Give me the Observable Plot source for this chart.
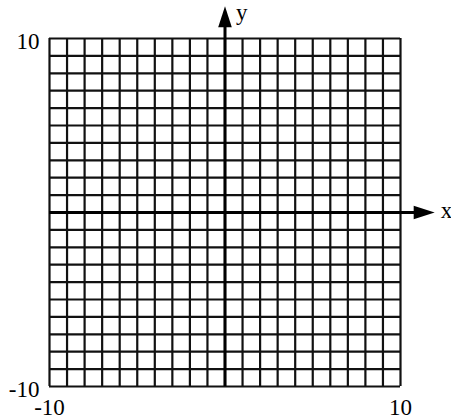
<!DOCTYPE html>
<html>
<head>
<meta charset="utf-8">
<script src="https://cdn.jsdelivr.net/npm/d3@7"></script>
<script src="https://cdn.jsdelivr.net/npm/@observablehq/plot@0.6"></script>
<style>
  html, body { margin: 0; padding: 0; background: #fff; }
  svg { display: block; }
</style>
</head>
<body>
<div id="chart"></div>
<script>
const gridValues = [-10,-9,-8,-7,-6,-5,-4,-3,-2,-1,0,1,2,3,4,5,6,7,8,9,10];
const xTicks = [-10, 10];
const yTicks = [-10, 10];
const axisNames = ["x", "y"];

const arrowHead = {
  draw(context) {
    context.moveTo(0, -21);
    context.lineTo(6.8, 0);
    context.lineTo(-6.8, 0);
    context.closePath();
  }
};

const chart = Plot.plot({
  width: 451,
  height: 419,
  marginLeft: 49,
  marginRight: 51,
  marginTop: 38,
  marginBottom: 33,
  x: {domain: [-10, 10]},
  y: {domain: [-10, 10]},
  style: {fontFamily: "'Liberation Serif', serif", color: "black", background: "white"},
  marks: [
    Plot.ruleX(gridValues, {y1: -10, y2: 10, stroke: "#111", strokeWidth: 2.2}),
    Plot.ruleY(gridValues, {x1: -10, x2: 10, stroke: "#111", strokeWidth: 2.2}),
    Plot.ruleX([0], {y1: -10, y2: 10.7, stroke: "black", strokeWidth: 3}),
    Plot.ruleY([0], {x1: -10, x2: 10.8, stroke: "black", strokeWidth: 3}),
    Plot.dot([0], {x: 0, y: 10.65, symbol: arrowHead, fill: "black", stroke: "none", r: 5}),
    Plot.dot([0], {x: 10.75, y: 0, symbol: arrowHead, fill: "black", stroke: "none", r: 5, rotate: 90}),
    Plot.text([axisNames[1]], {x: 0.95, y: 11.5, text: d => d, textAnchor: "middle", className: "axname"}),
    Plot.text([axisNames[0]], {x: 12.3, y: 0.1, text: d => d, textAnchor: "start", className: "axname"}),
    Plot.axisY(yTicks, {tickSize: 0, tickPadding: 10, dy: 3, label: null, tickFormat: d => String(d)}),
    Plot.axisX(xTicks, {tickSize: 0, tickPadding: 12, label: null, tickFormat: d => String(d)})
  ]
});
chart.querySelectorAll("text").forEach(t => {
  t.style.fontFamily = "'Liberation Serif', 'Times New Roman', serif";
  t.style.fontSize = "23px";
});
chart.querySelectorAll("g[font-size]").forEach(g => g.removeAttribute("font-size"));
document.getElementById("chart").appendChild(chart);
</script>
</body>
</html>
